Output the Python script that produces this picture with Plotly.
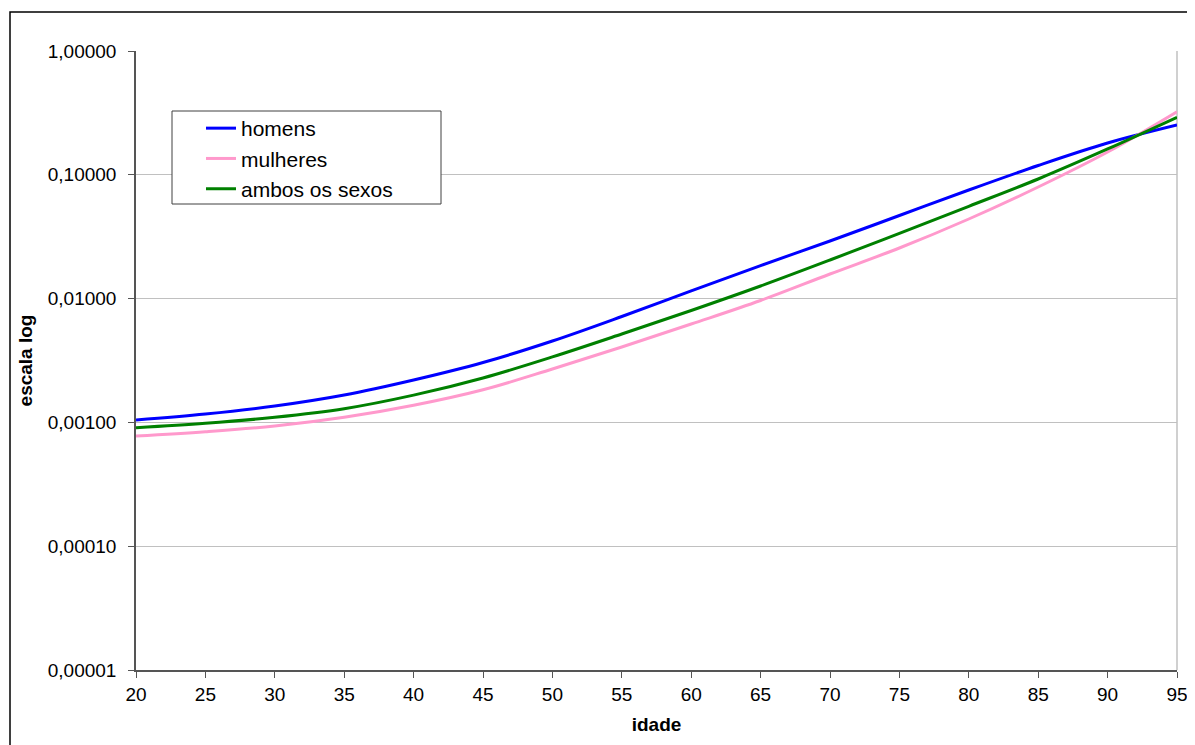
import plotly.graph_objects as go

idade = [20, 25, 30, 35, 40, 45, 50, 55, 60, 65, 70, 75, 80, 85, 90, 95]
homens = [0.001046, 0.001169, 0.001356, 0.001664, 0.002200, 0.003046, 0.004545, 0.007168,
          0.01156, 0.01848, 0.02920, 0.04691, 0.07538, 0.1189, 0.1807, 0.2525]
mulheres = [0.000776, 0.000841, 0.000935, 0.001100, 0.001375, 0.001834, 0.002700, 0.004064,
            0.006233, 0.009654, 0.01580, 0.02563, 0.04395, 0.0797, 0.1528, 0.3233]
ambos = [0.000906, 0.000983, 0.001100, 0.001290, 0.001660, 0.002284, 0.003382, 0.005176,
         0.008014, 0.01264, 0.02050, 0.03369, 0.05567, 0.0925, 0.1616, 0.2913]

y_tickvals = [0.00001, 0.0001, 0.001, 0.01, 0.1, 1]
y_ticktext = ["0,00001", "0,00010", "0,00100", "0,01000", "0,10000", "1,00000"]
x_tickvals = list(range(20, 96, 5))

FONT = "Liberation Sans, Arial, sans-serif"

# page offset of the plot div (default body margin) is 8 px
PL, PT, PW, PH = 136, 51, 1041, 619   # plot area in page pixels


def px(xp):
    return (xp - PL) / PW


def py(yp):
    return (PT + PH - yp) / PH


fig = go.Figure()
for name, vals, color in [("homens", homens, "#0000FF"),
                          ("mulheres", mulheres, "#FF99CC"),
                          ("ambos os sexos", ambos, "#008000")]:
    fig.add_trace(go.Scatter(x=idade, y=vals, name=name, mode="lines",
                             line=dict(color=color, width=3, shape="spline", smoothing=1)))

fig.add_shape(type="line", xref="paper", yref="paper", x0=1, x1=1, y0=0, y1=1,
              line=dict(color="#c0c0c0", width=1.5), layer="below")
fig.add_shape(type="rect", xref="paper", yref="paper",
              x0=px(172), x1=px(441), y0=py(204), y1=py(111),
              line=dict(color="#404040", width=1), fillcolor="white", layer="above")
fig.add_shape(type="rect", xref="paper", yref="paper",
              x0=px(10), x1=1.2, y0=-0.2, y1=py(12),
              line=dict(color="black", width=1.5), layer="below")

fig.update_layout(
    width=1187, height=737,
    margin=dict(l=PL - 8, r=1187 - (PL - 8) - PW, t=PT - 8, b=737 - (PT - 8) - PH,
                autoexpand=False),
    paper_bgcolor="white", plot_bgcolor="white",
    font=dict(family=FONT, size=19, color="black"),
    showlegend=True,
    legend=dict(x=px(201), y=py(108), xanchor="left", yanchor="top",
                bgcolor="rgba(0,0,0,0)", borderwidth=0,
                font=dict(family=FONT, size=21, color="black"),
                tracegroupgap=0),
    xaxis=dict(range=[20, 95], tickvals=x_tickvals, ticks="outside", ticklen=6,
               tickcolor="#555555", showline=True, linecolor="#555555", linewidth=1.5,
               showgrid=False, zeroline=False, tickfont=dict(size=19),
               title=dict(text="<b>idade</b>", font=dict(size=19), standoff=14)),
    yaxis=dict(type="log", range=[-5, 0], tickvals=y_tickvals, ticktext=y_ticktext,
               ticks="outside", ticklen=6, tickcolor="#555555", showline=True,
               linecolor="#555555", linewidth=1.5, showgrid=True, gridcolor="#c0c0c0",
               gridwidth=1, zeroline=False, tickfont=dict(size=19), ticklabelstandoff=8,
               title=dict(text="<b>escala log</b>", font=dict(size=19), standoff=10)),
)

fig.write_html("out.html")
